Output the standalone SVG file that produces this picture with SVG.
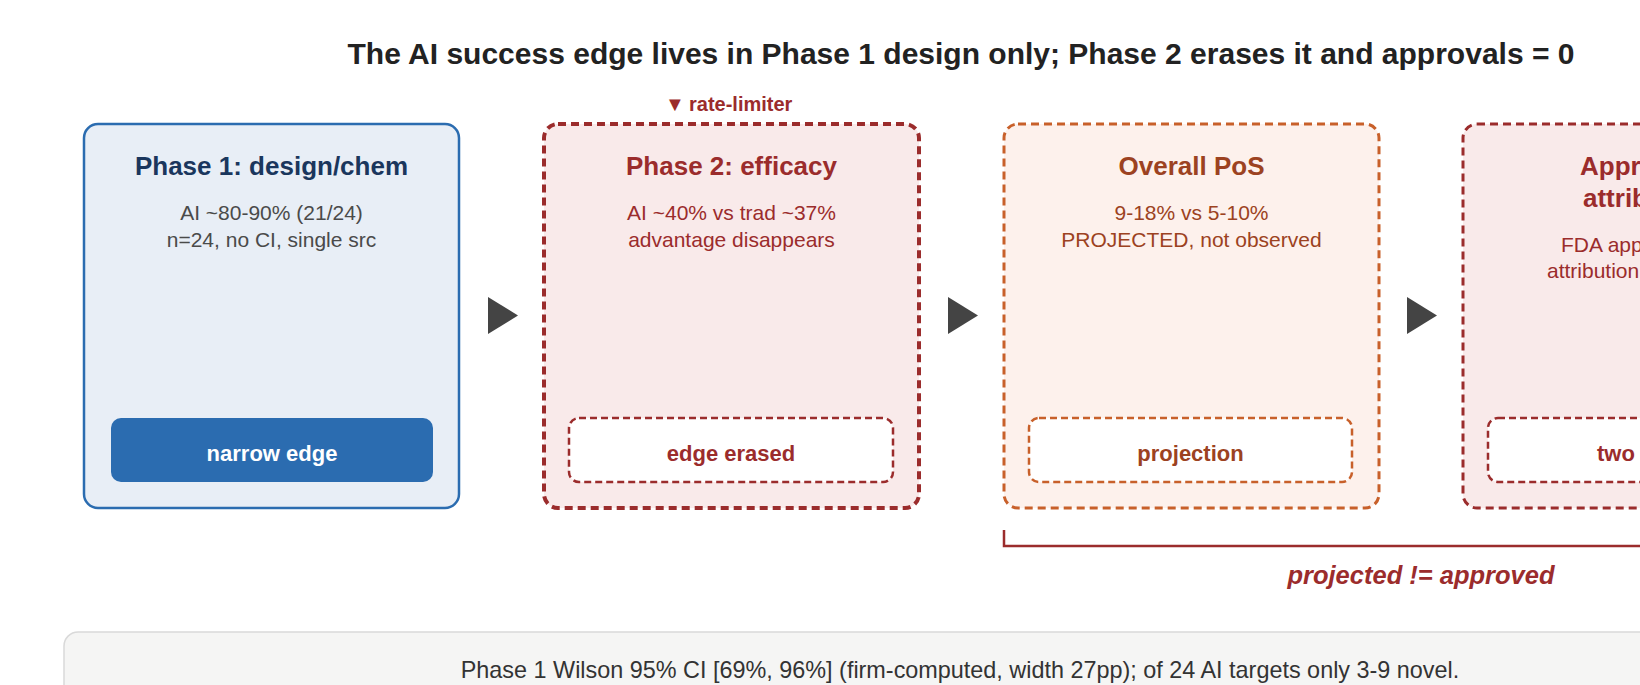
<svg xmlns="http://www.w3.org/2000/svg" width="1640" height="685" viewBox="0 0 1640 685">
<style>
text{font-family:"Liberation Sans",Arial,Helvetica,sans-serif}
.title{font-size:30px;font-weight:bold;fill:#222}
.ntitle{font-size:26px;font-weight:bold;text-anchor:middle}
.body{font-size:21px;text-anchor:middle}
.badge{font-size:22px;font-weight:bold;text-anchor:middle}
.red{fill:#9b2c2c}
.org{fill:#9c4221}
</style>
<rect width="1640" height="685" fill="#ffffff"/>
<text class="title" x="961" y="64" text-anchor="middle">The AI success edge lives in Phase 1 design only; Phase 2 erases it and approvals = 0</text>

<g id="phase1">
<rect x="84" y="124" width="375" height="384" rx="14" fill="#e8eef6" stroke="#2b6cb0" stroke-width="2.5"/>
<text class="ntitle" x="271.5" y="175" fill="#1a365d">Phase 1: design/chem</text>
<text class="body" x="271.5" y="220" fill="#4a4a4a">AI ~80-90% (21/24)</text>
<text class="body" x="271.5" y="247" fill="#4a4a4a">n=24, no CI, single src</text>
<rect x="111" y="418" width="322" height="64" rx="10" fill="#2b6cb0"/>
<text class="badge" x="272" y="461" fill="#ffffff">narrow edge</text>
</g>

<g id="phase2">
<text x="665" y="111" font-size="20" font-weight="bold" class="red"><tspan x="665">▼</tspan><tspan x="689">rate-limiter</tspan></text>
<rect x="544" y="124" width="375" height="384" rx="14" fill="#f9eaea" stroke="#9b2c2c" stroke-width="4" stroke-dasharray="8 5"/>
<text class="ntitle red" x="731.5" y="175">Phase 2: efficacy</text>
<text class="body red" x="731.5" y="220">AI ~40% vs trad ~37%</text>
<text class="body red" x="731.5" y="247">advantage disappears</text>
<rect x="569" y="418" width="324" height="64" rx="10" fill="#ffffff" stroke="#9b2c2c" stroke-width="2.5" stroke-dasharray="7 4"/>
<text class="badge red" x="731" y="461">edge erased</text>
</g>

<g id="overall-pos">
<rect x="1004" y="124" width="375" height="384" rx="14" fill="#fdf1ec" stroke="#c8602a" stroke-width="3" stroke-dasharray="8 5"/>
<text class="ntitle org" x="1191.5" y="175">Overall PoS</text>
<text class="body org" x="1191.5" y="220">9-18% vs 5-10%</text>
<text class="body org" x="1191.5" y="247">PROJECTED, not observed</text>
<rect x="1029" y="418" width="323" height="64" rx="10" fill="#ffffff" stroke="#c8602a" stroke-width="2.5" stroke-dasharray="7 4"/>
<text class="badge org" x="1190.5" y="461">projection</text>
</g>

<g id="approvals">
<rect x="1463" y="124" width="376" height="384" rx="14" fill="#f9eaea" stroke="#9b2c2c" stroke-width="3" stroke-dasharray="8 5"/>
<text x="1580" y="175" font-size="26" font-weight="bold" class="red">Appr</text>
<text x="1583" y="207" font-size="26" font-weight="bold" class="red">attrib</text>
<text x="1561" y="252" font-size="21" class="red">FDA app</text>
<text x="1547" y="278" font-size="21" class="red">attribution</text>
<rect x="1488" y="418" width="326" height="64" rx="10" fill="#ffffff" stroke="#9b2c2c" stroke-width="2.5" stroke-dasharray="7 4"/>
<text x="1597" y="461" font-size="22" font-weight="bold" class="red">two</text>
</g>

<g id="connectors">
<path d="M488,297 L518,315.5 L488,334 Z" fill="#444"/>
<path d="M948,297 L978,315.5 L948,334 Z" fill="#444"/>
<path d="M1407,297 L1437,315.5 L1407,334 Z" fill="#444"/>
<path d="M1004,530 V546 H1839 V530" fill="none" stroke="#9b2c2c" stroke-width="2.5"/>
<text x="1421" y="584" font-size="25.5" font-weight="bold" font-style="italic" text-anchor="middle" class="red">projected != approved</text>
</g>

<g id="footer">
<rect x="64" y="632" width="1792" height="110" rx="14" fill="#f5f5f4" stroke="#d9d9d9" stroke-width="1.5"/>
<text x="960" y="678" font-size="23.4" text-anchor="middle" fill="#333">Phase 1 Wilson 95% CI [69%, 96%] (firm-computed, width 27pp); of 24 AI targets only 3-9 novel.</text>
</g>
</svg>
